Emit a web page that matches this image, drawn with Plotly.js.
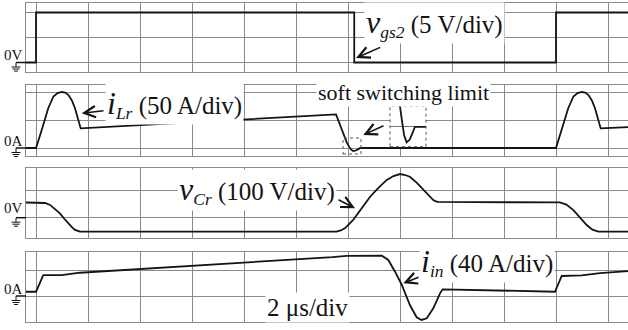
<!DOCTYPE html>
<html>
<head>
<meta charset="utf-8">
<script src="https://cdn.plot.ly/plotly-3.0.1.min.js"></script>
<style>
  html, body { margin: 0; padding: 0; background: #fff; }
  #chart { width: 628px; height: 330px; }
</style>
</head>
<body>
<div id="chart"></div>
<script>
// Time axis in microseconds (2 µs per division).

// Gate voltage v_gs2 (V)
const tGate = [-0.4, 0, 0, 12.24, 12.24, 20, 20, 22.8];
const vGate = [0, 0, 10, 10, 0, 0, 10, 10];

// Resonant inductor current i_Lr (A)
const tLr = [-0.4, 0, 0.22, 0.47, 0.67, 0.83, 0.99, 1.12, 1.24, 1.38, 1.5, 1.72,
             11.54, 11.76, 11.95, 12.05, 12.12, 12.2, 12.3, 12.4, 12.47,
             20, 20.22, 20.47, 20.67, 20.83, 20.99, 21.12, 21.24, 21.38, 21.5, 21.72, 22.8];
const iLr = [0, 0, 32, 71, 92, 98, 100, 99, 95, 85, 71, 35,
             60, 32, 10, 2, -3, -5.5, -4.5, -2, 0,
             0, 32, 71, 92, 98, 100, 99, 95, 85, 71, 35, 37.5];

// Resonant capacitor voltage v_Cr (V)
const tCr = [-0.4, 0.13, 0.35, 0.54, 0.73, 0.92, 1.08, 1.24, 1.38, 1.5, 1.6, 1.69,
             11.56, 11.72, 11.88, 12.04, 12.2, 12.52, 12.85, 13.17, 13.49, 13.75, 14.0,
             14.2, 14.38, 14.65, 14.9, 15.1, 15.28, 15.38, 15.47,
             20.15, 20.4, 20.67, 20.92, 21.18, 21.4, 21.63, 22.8];
const vCr = [56, 56, 54, 47, 33, 16, -3, -21, -35, -45, -50, -51.5,
             -51.5, -47, -39, -25, -8.5, 34, 77, 110, 139, 153, 160.5,
             157, 150.7, 128, 102, 80, 65, 60, 58,
             56, 48, 28, 0, -27, -44, -51.5, -51.5];

// Input current i_in (A)
const tIn = [-0.4, 0, 0.28, 0.99, 1.69, 10.54, 11.4, 11.95, 12.7, 13.3,
             13.55, 13.81, 14.07, 14.38, 14.64, 14.83, 15.03, 15.28, 15.54, 15.64,
             19.96, 20.22, 20.99, 21.69, 22.8];
const iIn = [6.7, 6.7, 32.9, 32.9, 36.5, 58, 61, 63, 63.5, 63.2,
             56.5, 38.1, 17.3, -14.1, -33.4, -37.6, -35, -19.3, 4.2, 10.5,
             6.7, 31.4, 32.5, 36, 39];

// ---- page geometry ----
const W = 628, H = 330;
const px = x => x / W;
const py = y => 1 - y / H;
const plotLeft = 26, firstDiv = 36, pxPerDiv = 52, usPerDiv = 2;
const tLeft = (plotLeft - firstDiv) / pxPerDiv * usPerDiv;
const tRight = (W - firstDiv) / pxPerDiv * usPerDiv;

const GRID = '#8a8a8a';
const INK = '#141414';
const serif = '"Liberation Serif", "Times New Roman", Times, serif';

// each strip: pixel top/bottom, pixel of the ground marker, units per division, pixels per division
const strips = [
  { top: 2.5,   bottom: 72,    zero: 62.5,  div: 5,   pxDiv: 25   },
  { top: 85,    bottom: 155.5, zero: 148,   div: 50,  pxDiv: 28   },
  { top: 168.3, bottom: 238,   zero: 217.7, div: 100, pxDiv: 27.2 },
  { top: 251.5, bottom: 321.7, zero: 296,   div: 40,  pxDiv: 25.5 }
];

const layout = {
  width: W, height: H,
  margin: { l: 0, r: 0, t: 0, b: 0, pad: 0 },
  paper_bgcolor: '#fff', plot_bgcolor: '#fff',
  showlegend: false,
  shapes: [], annotations: []
};

strips.forEach((s, i) => {
  const n = i + 1;
  const sfx = n === 1 ? '' : String(n);
  layout['xaxis' + sfx] = {
    domain: [px(plotLeft), 1], range: [tLeft, tRight],
    tick0: 0, dtick: usPerDiv, showgrid: true, gridcolor: GRID, gridwidth: 1,
    zeroline: false, showticklabels: false, ticks: '',
    showline: true, mirror: true, linecolor: GRID, linewidth: 1,
    anchor: 'y' + sfx, fixedrange: true
  };
  layout['yaxis' + sfx] = {
    domain: [py(s.bottom), py(s.top)],
    range: [-(s.bottom - s.zero) / s.pxDiv * s.div, (s.zero - s.top) / s.pxDiv * s.div],
    tick0: 0, dtick: s.div, showgrid: true, gridcolor: GRID, gridwidth: 1,
    zeroline: false, showticklabels: false, ticks: '',
    showline: true, mirror: false, linecolor: GRID, linewidth: 1,
    anchor: 'x' + sfx, fixedrange: true
  };

  // ground marker at the left of each strip
  const z = s.zero;
  const seg = (x0, y0, x1, y1, w) => ({
    type: 'line', xref: 'paper', yref: 'paper',
    x0: px(x0), y0: py(y0), x1: px(x1), y1: py(y1),
    line: { color: INK, width: w }, layer: 'above'
  });
  layout.shapes.push(
    seg(16, z, plotLeft, z, 1.5),
    seg(16, z, 16, z + 4.5, 1),
    seg(11.5, z + 4.5, 20.5, z + 4.5, 1),
    seg(12.5, z + 6.5, 19.5, z + 6.5, 1),
    seg(14, z + 8.5, 18, z + 8.5, 1)
  );
});

// magnified view of the i_Lr valley
layout.xaxis5 = {
  domain: [px(390), px(426)], range: [11.66, 12.83],
  showgrid: false, zeroline: false, showticklabels: false, ticks: '',
  showline: false, anchor: 'y5', fixedrange: true
};
layout.yaxis5 = {
  domain: [py(146.7), py(106)], range: [-7, 7.3],
  showgrid: false, zeroline: true, zerolinecolor: '#777', zerolinewidth: 1,
  showticklabels: false, ticks: '', showline: false, anchor: 'x5', fixedrange: true
};

const dotted = (x0, y0, x1, y1) => ({
  type: 'rect', xref: 'paper', yref: 'paper',
  x0: px(x0), y0: py(y1), x1: px(x1), y1: py(y0),
  line: { color: '#555', width: 1, dash: 'dot' }, fillcolor: 'rgba(0,0,0,0)', layer: 'above'
});
layout.shapes.push(dotted(390, 106, 426, 146.7), dotted(343, 138, 361, 154));

// level labels
const levelLabel = (text, yc) => ({
  text, xref: 'paper', yref: 'paper', x: px(25), y: py(yc),
  xanchor: 'right', yanchor: 'middle', showarrow: false,
  font: { family: serif, size: 15, color: INK }
});
layout.annotations.push(
  levelLabel('0V', 54.8),
  levelLabel('0A', 141.5),
  levelLabel('0V', 207.5),
  levelLabel('0A', 288.8)
);

// signal captions
const caption = (text, x, yc, size) => ({
  text, xref: 'paper', yref: 'paper', x: px(x), y: py(yc),
  xanchor: 'left', yanchor: 'middle', showarrow: false,
  bgcolor: '#fff', borderpad: 1,
  font: { family: serif, size: size, color: INK }
});
const big = c => '<span style="font-size:32px"><i>' + c + '</i></span>';
layout.annotations.push(
  caption(big('v') + '<sub><i>gs2</i></sub> (5 V/div)', 364, 23, 25),
  caption(big('i') + '<sub><i>Lr</i></sub> (50 A/div)', 105, 104, 25),
  caption('soft switching limit', 316, 92, 22),
  caption(big('v') + '<sub><i>Cr</i></sub> (100 V/div)', 177, 190, 25),
  caption(big('i') + '<sub><i>in</i></sub> (40 A/div)', 419, 262, 25),
  caption('2 μs/div', 265, 307.5, 25)
);

// pointer arrows: head position, tail position (pixels)
const pointer = (hx, hy, tx, ty) => ({
  text: '', xref: 'paper', yref: 'paper', x: px(hx), y: py(hy),
  ax: tx - hx, ay: ty - hy, showarrow: true,
  arrowhead: 5, arrowsize: 1.4, arrowwidth: 1.6, arrowcolor: INK, standoff: 0
});
layout.annotations.push(
  pointer(356, 58, 381.7, 46.7),
  pointer(81.7, 113.3, 105, 110.5),
  pointer(363.3, 135, 385, 125),
  pointer(355, 208.3, 337, 199),
  pointer(403.3, 283.3, 420, 276.7)
);

const line = { color: INK, width: 1.8 };
const trace = (x, y, n) => ({
  x, y, type: 'scatter', mode: 'lines', line,
  xaxis: 'x' + (n === 1 ? '' : n), yaxis: 'y' + (n === 1 ? '' : n),
  hoverinfo: 'skip'
});

const data = [
  trace(tGate, vGate, 1),
  trace(tLr, iLr, 2),
  trace(tCr, vCr, 3),
  trace(tIn, iIn, 4),
  trace(tLr, iLr, 5)
];

Plotly.newPlot('chart', data, layout, { staticPlot: true, displayModeBar: false });
</script>
</body>
</html>
